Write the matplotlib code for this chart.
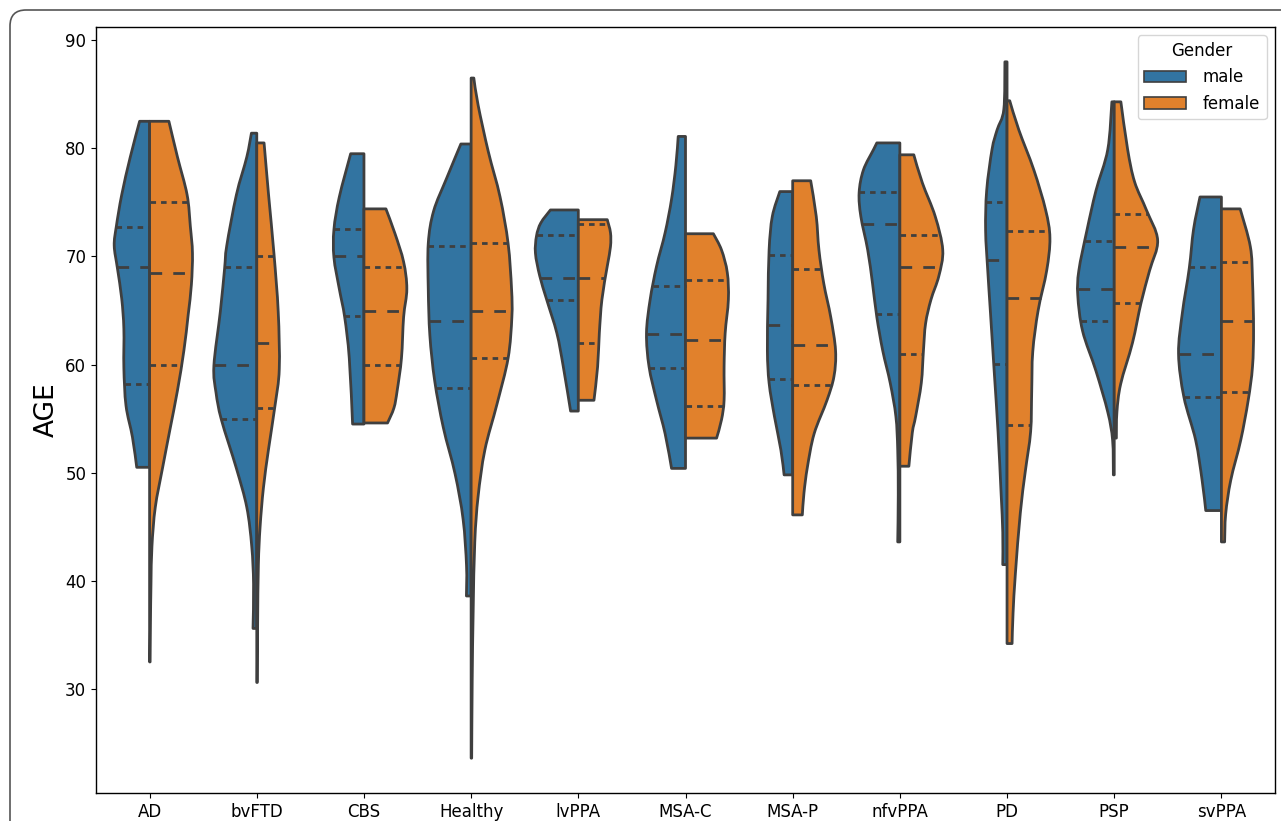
import numpy as np
import matplotlib
matplotlib.use("Agg")
import matplotlib.pyplot as plt
from matplotlib.path import Path
from matplotlib.patches import PathPatch, Patch, FancyBboxPatch

categories = ["AD", "bvFTD", "CBS", "Healthy", "lvPPA", "MSA-C", "MSA-P",
              "nfvPPA", "PD", "PSP", "svPPA"]
genders = ["male", "female"]

# quartiles per category: [Q1, median, Q3]
male_quartiles = [
    [58.2, 69.0, 72.7], [55.0, 60.0, 69.0], [64.5, 70.0, 72.5], [57.8, 64.0, 71.0],
    [66.0, 68.0, 72.0], [59.7, 62.8, 67.3], [58.7, 63.7, 70.1], [64.7, 73.0, 76.0],
    [60.1, 69.7, 75.0], [64.0, 67.0, 71.4], [57.0, 61.0, 69.0],
]
female_quartiles = [
    [60.0, 68.5, 75.0], [56.0, 62.0, 70.0], [60.0, 65.0, 69.0], [60.6, 65.0, 71.2],
    [62.0, 68.0, 73.0], [56.2, 62.3, 67.8], [58.1, 61.8, 68.8], [61.0, 69.0, 72.0],
    [54.4, 66.2, 72.4], [65.7, 70.9, 73.9], [57.5, 64.0, 69.5],
]

# density outlines: ages from max to min, and half-widths (category units)
male_ages = [
    [82.5, 79.2, 75.7, 72.8, 71.0, 68.9, 66.1, 63.3, 59.7, 56.2, 53.3, 50.5],
    [81.4, 79.2, 75.7, 71.0, 68.9, 64.9, 59.9, 57.4, 54.9, 50.4, 46.8, 43.2, 39.7, 35.6],
    [79.5, 75.5, 72.5, 69.9, 67.0, 64.4, 60.6, 54.5],
    [80.4, 77.2, 74.2, 71.2, 67.0, 62.7, 58.5, 54.2, 49.9, 45.7, 41.4, 38.6],
    [74.3, 73.1, 71.9, 70.3, 68.2, 66.0, 62.9, 59.8, 55.7],
    [81.1, 78.4, 75.3, 72.2, 69.1, 66.0, 62.9, 59.8, 56.7, 53.6, 50.4],
    [76.0, 73.7, 70.6, 66.0, 61.3, 58.3, 55.2, 52.1, 49.8],
    [80.5, 79.9, 78.0, 75.9, 73.7, 70.6, 67.5, 64.4, 61.3, 58.3, 55.2, 52.1, 48.0, 43.6],
    [88.0, 83.6, 81.7, 79.9, 76.1, 72.4, 68.7, 65.0, 59.4, 53.8, 48.2, 44.5, 41.5],
    [84.3, 79.9, 76.1, 72.4, 68.7, 66.4, 63.1, 59.4, 55.6, 53.0, 49.8],
    [75.5, 72.5, 68.9, 64.8, 61.0, 57.0, 53.0, 49.3, 46.5],
]
male_widths = [
    [0.093, 0.18, 0.26, 0.31, 0.33, 0.30, 0.26, 0.24, 0.24, 0.22, 0.16, 0.12],
    [0.05, 0.093, 0.19, 0.28, 0.30, 0.34, 0.40, 0.38, 0.33, 0.19, 0.093, 0.047, 0.03, 0.035],
    [0.124, 0.23, 0.28, 0.28, 0.23, 0.18, 0.137, 0.106],
    [0.096, 0.23, 0.35, 0.40, 0.40, 0.385, 0.34, 0.26, 0.15, 0.075, 0.043, 0.044],
    [0.26, 0.35, 0.39, 0.40, 0.36, 0.295, 0.20, 0.14, 0.072],
    [0.068, 0.09, 0.13, 0.19, 0.27, 0.33, 0.364, 0.34, 0.27, 0.19, 0.13],
    [0.12, 0.19, 0.22, 0.23, 0.236, 0.22, 0.17, 0.11, 0.08],
    [0.215, 0.245, 0.34, 0.38, 0.364, 0.30, 0.255, 0.215, 0.16, 0.09, 0.037, 0.02, 0.015, 0.02],
    [0.02, 0.03, 0.093, 0.14, 0.19, 0.20, 0.18, 0.156, 0.12, 0.084, 0.056, 0.04, 0.04],
    [0.022, 0.06, 0.17, 0.255, 0.33, 0.34, 0.295, 0.17, 0.06, 0.015, 0.008],
    [0.20, 0.26, 0.30, 0.364, 0.40, 0.35, 0.24, 0.18, 0.146],
]
female_ages = [
    [82.5, 79.2, 75.7, 72.8, 70.3, 67.4, 64.6, 61.3, 57.6, 54.0, 50.4, 46.8, 43.2, 39.7, 36.0, 32.5],
    [80.5, 75.7, 70.3, 64.9, 59.6, 56.2, 52.2, 48.6, 45.0, 41.5, 36.0, 30.6],
    [74.4, 72.1, 69.5, 67.0, 64.4, 60.6, 57.6, 56.0, 54.6],
    [86.5, 84.0, 79.7, 75.5, 71.2, 67.0, 64.4, 60.6, 56.3, 52.1, 47.8, 43.6, 37.2, 30.8, 23.6],
    [73.4, 72.2, 70.9, 69.1, 66.0, 62.9, 59.8, 56.7],
    [72.1, 70.6, 68.5, 66.0, 62.9, 59.8, 56.7, 54.9, 53.2],
    [77.0, 73.7, 70.6, 67.5, 64.4, 61.3, 58.9, 56.7, 53.6, 50.5, 48.1, 46.1],
    [79.4, 76.8, 73.7, 70.6, 68.2, 66.0, 63.8, 61.3, 58.3, 55.2, 53.7, 50.6],
    [84.4, 81.7, 78.0, 74.3, 71.7, 68.7, 65.0, 61.2, 57.5, 53.8, 50.1, 46.3, 40.7, 37.0, 34.2],
    [84.3, 79.9, 76.9, 74.3, 71.5, 68.7, 65.7, 62.0, 58.2, 55.6, 53.2],
    [74.4, 70.9, 67.8, 63.2, 59.8, 56.7, 53.0, 49.3, 46.2, 43.6],
]
female_widths = [
    [0.18, 0.26, 0.35, 0.38, 0.40, 0.39, 0.36, 0.32, 0.26, 0.19, 0.12, 0.053, 0.022, 0.013, 0.008, 0.005],
    [0.068, 0.11, 0.16, 0.20, 0.21, 0.17, 0.11, 0.062, 0.031, 0.015, 0.008, 0.005],
    [0.205, 0.29, 0.37, 0.40, 0.37, 0.35, 0.31, 0.28, 0.22],
    [0.025, 0.065, 0.16, 0.27, 0.345, 0.377, 0.38, 0.345, 0.24, 0.128, 0.065, 0.034, 0.019, 0.01, 0.005],
    [0.27, 0.30, 0.30, 0.27, 0.22, 0.196, 0.18, 0.146],
    [0.26, 0.336, 0.39, 0.40, 0.37, 0.36, 0.36, 0.336, 0.29],
    [0.168, 0.22, 0.245, 0.29, 0.355, 0.40, 0.385, 0.32, 0.20, 0.137, 0.105, 0.09],
    [0.13, 0.21, 0.33, 0.40, 0.364, 0.29, 0.24, 0.22, 0.20, 0.147, 0.116, 0.084],
    [0.025, 0.11, 0.25, 0.36, 0.40, 0.37, 0.29, 0.24, 0.23, 0.22, 0.17, 0.124, 0.078, 0.056, 0.047],
    [0.062, 0.125, 0.19, 0.30, 0.405, 0.33, 0.25, 0.17, 0.06, 0.025, 0.02],
    [0.175, 0.27, 0.29, 0.30, 0.29, 0.25, 0.18, 0.087, 0.04, 0.03],
]

colors = {"male": "#3274a1", "female": "#e1812c"}
gray = "#3f3f3f"
lw = 2.0


def half_violin(center, ages, widths, side):
    """Closed outline of one half violin, smoothed with Catmull-Rom curves."""
    a = np.asarray(ages, float)
    x = center + side * np.asarray(widths, float)
    pts = np.column_stack([x, a])
    ext = np.vstack([pts[0], pts, pts[-1]])
    verts = [(center, a[0]), tuple(pts[0])]
    codes = [Path.MOVETO, Path.LINETO]
    for i in range(len(pts) - 1):
        p0, p1, p2, p3 = ext[i], ext[i + 1], ext[i + 2], ext[i + 3]
        c1 = p1 + (p2 - p0) / 6.0
        c2 = p2 - (p3 - p1) / 6.0
        verts += [tuple(c1), tuple(c2), tuple(p2)]
        codes += [Path.CURVE4] * 3
    verts += [(center, a[-1]), (center, a[0])]
    codes += [Path.LINETO, Path.CLOSEPOLY]
    return Path(verts, codes)


fig = plt.figure(figsize=(12.81, 8.21), dpi=100)
ax = fig.add_axes([96 / 1281, 28 / 821, 1179 / 1281, 766 / 821])

series = [
    ("male", -1, male_ages, male_widths, male_quartiles),
    ("female", 1, female_ages, female_widths, female_quartiles),
]

for i, cat in enumerate(categories):
    for gender, side, ages_all, widths_all, quart_all in series:
        ages = ages_all[i]
        widths = widths_all[i]
        patch = PathPatch(half_violin(i, ages, widths, side),
                          facecolor=colors[gender], edgecolor=gray,
                          linewidth=lw, joinstyle="round")
        ax.add_patch(patch)
        q1, med, q3 = quart_all[i]
        for q, dashes in [(q1, (2.0, 1.8)), (med, (4.2, 4.0)), (q3, (2.0, 1.8))]:
            w = np.interp(q, ages[::-1], widths[::-1])
            xs = [i - w, i] if side < 0 else [i, i + w]
            ax.plot(xs, [q, q], color=gray, linewidth=lw, dashes=dashes,
                    dash_capstyle="butt")

all_ages = [v for grp in male_ages + female_ages for v in grp]
lo, hi = min(all_ages), max(all_ages)
pad = 0.05 * (hi - lo)
ax.set_ylim(lo - pad, hi + pad)
ax.set_xlim(-0.5, len(categories) - 0.5)

ax.set_xticks(range(len(categories)))
ax.set_xticklabels(categories, fontsize=12)
ax.set_yticks([30, 40, 50, 60, 70, 80, 90])
ax.tick_params(axis="y", labelsize=12)
ax.set_ylabel("AGE", fontsize=19)
for sp in ax.spines.values():
    sp.set_linewidth(1.0)

handles = [Patch(facecolor=colors[g], edgecolor=gray, linewidth=1.2, label=g)
           for g in genders]
ax.legend(handles=handles, title="Gender", loc="upper right",
          fontsize=12, title_fontsize=12, handlelength=2.5, handletextpad=1.0)

# rounded outer frame
frame = FancyBboxPatch((0.10, -1.0), 14.0, 8.11 + 1.0,
                       boxstyle="round,pad=0,rounding_size=0.16",
                       transform=fig.dpi_scale_trans, facecolor="none",
                       edgecolor="#555555", linewidth=1.2, clip_on=False)
fig.patches.append(frame)

fig.savefig("out.png", dpi=100)
